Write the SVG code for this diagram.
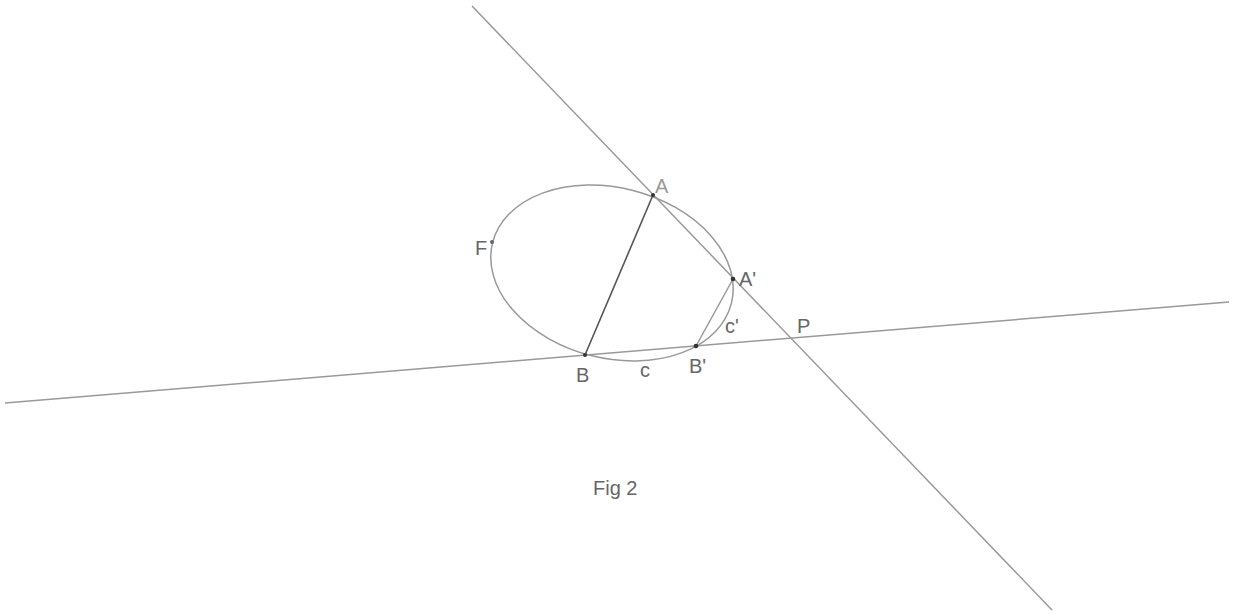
<svg xmlns="http://www.w3.org/2000/svg" width="1244" height="614" viewBox="0 0 1244 614">
<style>
.ln{stroke:#999;stroke-width:1.5;fill:none}
.lb{font-family:"Liberation Sans",Arial,sans-serif;font-size:20px;fill:#666}
.pt{fill:#333}
</style>
<rect width="1244" height="614" fill="#fff"/>
<g id="connectors">
<line class="ln" x1="472" y1="6" x2="1052" y2="610"/>
<line class="ln" x1="5" y1="403" x2="1229" y2="302"/>
<ellipse class="ln" cx="612" cy="273" rx="123.2" ry="85.2" transform="rotate(14.3 612 273)"/>
<line x1="653" y1="195" x2="585" y2="355" stroke="#555" stroke-width="1.6"/>
<line x1="733" y1="279" x2="696" y2="346" stroke="#999" stroke-width="1.5"/>
</g>
<g id="A"><circle class="pt" cx="653" cy="195" r="2"/><text class="lb" x="655" y="193" style="fill:#999">A</text></g>
<g id="A2"><circle class="pt" cx="733" cy="279" r="2.3"/><text class="lb" x="739" y="286">A'</text></g>
<g id="B"><circle class="pt" cx="585" cy="355" r="2"/><text class="lb" x="576" y="382">B</text></g>
<g id="B2"><circle class="pt" cx="696" cy="346" r="2.3"/><text class="lb" x="689" y="373">B'</text></g>
<g id="F"><circle cx="492" cy="242" r="2" fill="#666"/><text class="lb" x="475" y="255">F</text></g>
<g id="P"><text class="lb" x="797" y="333">P</text></g>
<g id="c"><text class="lb" x="640" y="377">c</text></g>
<g id="c2"><text class="lb" x="725" y="333">c'</text></g>
<g id="fig"><text class="lb" x="593" y="495">Fig 2</text></g>
</svg>
